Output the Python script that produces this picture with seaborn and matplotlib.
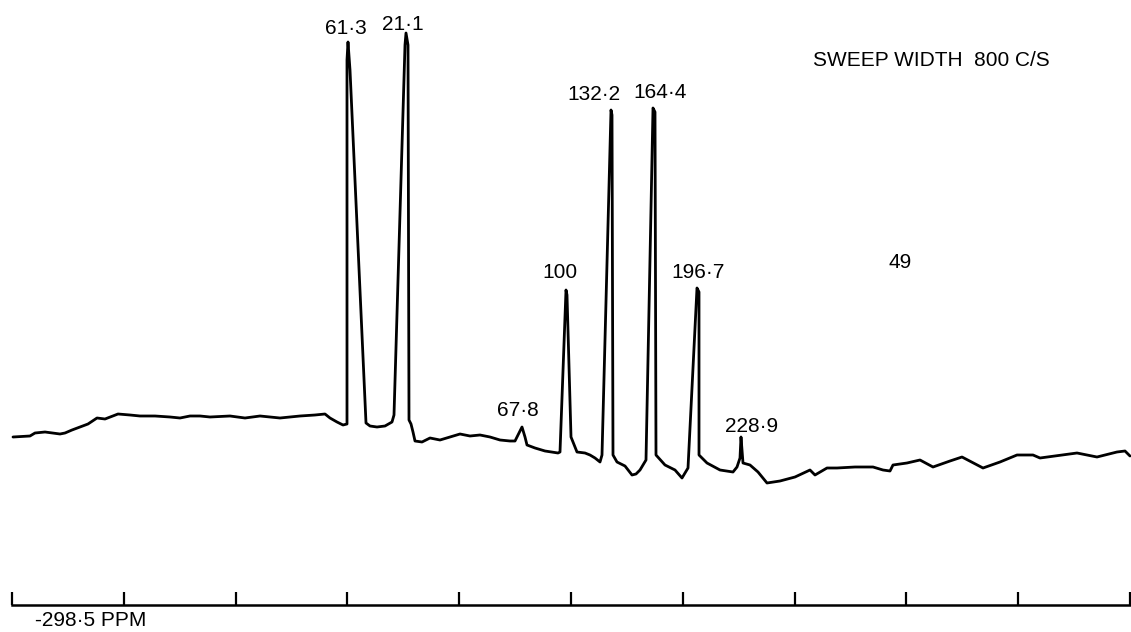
# Espectro RMN escaneado: traza del registrador con picos etiquetados
import numpy as np
import matplotlib
matplotlib.use("Agg")
import matplotlib.pyplot as plt
import seaborn as sns

# ---------------- datos leídos del registro ----------------
# posición a lo largo del papel (0 = inicio de la escala, 1118 = fin) y deflexión de la pluma
posicion = [1, 18, 23, 33, 48, 53, 60, 68, 76, 85, 93, 106, 118, 128, 143, 158, 168, 178, 188, 198,
            218, 233, 248, 268, 288, 303, 313, 318, 325, 331, 335, 335, 336, 338, 354, 358, 365, 373,
            380, 382, 393, 394, 396, 397, 399, 401, 403, 410, 418, 428, 438, 448, 458, 468, 478, 488,
            498, 503, 506, 510, 513, 515, 523, 533, 546, 548, 554, 555, 559, 565, 573, 578, 583, 588,
            590, 599, 600, 601, 605, 613, 620, 624, 628, 634, 641, 643, 644, 653, 663, 670, 676, 685,
            687, 687, 695, 708, 721, 725, 728, 729, 731, 738, 746, 755, 768, 783, 798, 803, 815, 825,
            843, 861, 871, 878, 881, 895, 908, 921, 938, 950, 971, 988, 1005, 1021, 1028, 1065, 1085,
            1105, 1113, 1118]
deflexion = [168, 169, 172, 173, 171, 172, 175, 178, 181, 187, 186, 191, 190, 189, 189, 188, 187, 189,
             189, 188, 189, 187, 189, 187, 189, 190, 191, 187, 183, 180, 181, 545, 563, 535, 182, 179,
             178, 179, 183, 190, 560, 572, 560, 185, 181, 173, 164, 163, 167, 165, 168, 171, 169, 170,
             168, 165, 164, 164, 170, 178, 168, 160, 157, 154, 152, 153, 315, 310, 168, 153, 152, 150,
             147, 143, 150, 495, 490, 150, 143, 139, 130, 131, 135, 145, 497, 493, 150, 140, 135, 127,
             137, 317, 313, 150, 142, 135, 133, 138, 147, 168, 142, 140, 133, 122, 124, 128, 135, 130,
             137, 137, 138, 138, 135, 134, 140, 142, 145, 138, 144, 148, 137, 143, 150, 150, 147, 152,
             148, 153, 154, 149]

# etiquetas de los picos (texto, posición, altura)
etiquetas_pico = ["61·3", "21·1", "67·8", "100", "132·2", "164·4", "196·7", "228·9"]
etiquetas_x = [334, 391, 506, 548, 582, 648, 686, 740]
etiquetas_y = [576, 581, 195, 333, 511, 512, 332, 178]

divisiones = np.linspace(0, 1118, 11)

# ---------------- figura ----------------
sns.set_theme(style="white")
plt.rcParams['font.family'] = ['Liberation Sans', 'DejaVu Sans']

fig = plt.figure(figsize=(11.31, 6.32), dpi=100)
ax = fig.add_axes([0, 0, 1, 1])

df = {"posicion": posicion, "deflexion": deflexion}
sns.lineplot(data=df, x="posicion", y="deflexion", sort=False, estimator=None,
             color="black", linewidth=2.0, ax=ax)

for txt, x, y in zip(etiquetas_pico, etiquetas_x, etiquetas_y):
    ax.text(x, y, txt, ha="center", va="center", fontsize=15, color="black")

ax.text(801, 545, "SWEEP WIDTH  800 C/S", ha="left", va="center", fontsize=15, color="black")
ax.text(888, 343, "49", ha="center", va="center", fontsize=15, color="black")
ax.text(23, -16, "-298·5 PPM", ha="left", va="center", fontsize=15, color="black")

# eje inferior: escala de divisiones del papel
ax.set_xlim(-12, 1119)
ax.set_ylim(-27, 605)
for s in ["top", "right", "left"]:
    ax.spines[s].set_visible(False)
ax.spines["bottom"].set_position(("data", 0))
ax.spines["bottom"].set_bounds(0, 1118)
ax.spines["bottom"].set_linewidth(1.8)
ax.spines["bottom"].set_color("black")
ax.set_xticks(divisiones)
ax.set_xticklabels([])
ax.tick_params(axis="x", direction="in", length=9.5, width=1.6, color="black", bottom=True)
ax.set_yticks([])
ax.set_xlabel("")
ax.set_ylabel("")

fig.savefig("out.png", dpi=100)
